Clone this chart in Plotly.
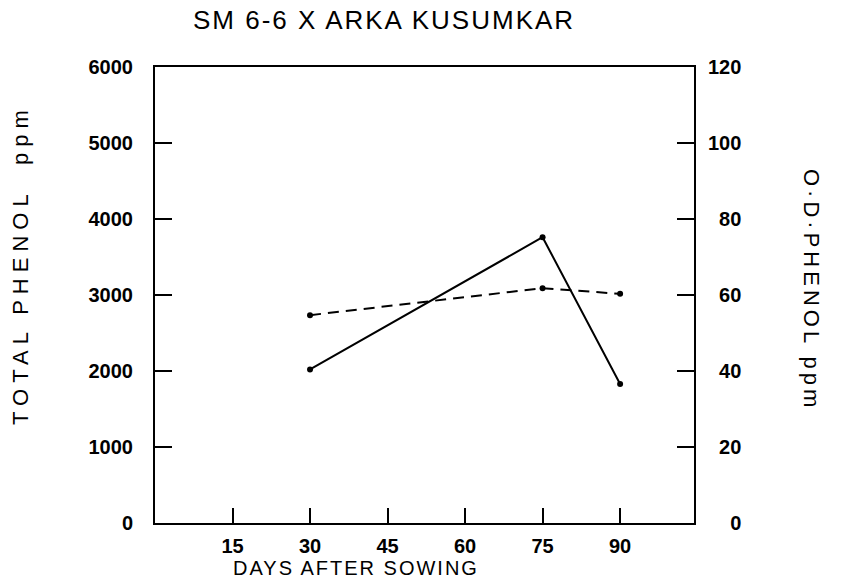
import plotly.graph_objects as go

days = [30, 75, 90]
total_phenol = [2020, 3760, 1830]      # left axis, ppm
od_phenol = [54.7, 61.8, 60.3]         # right axis, ppm

x_ticks = [15, 30, 45, 60, 75, 90]
left_ticks = [0, 1000, 2000, 3000, 4000, 5000, 6000]
left_ticktext = ["0", "1000", "2000", "3000", "4000", "5000", "6000"]
right_ticks = [0, 20, 40, 60, 80, 100, 120]
right_ticktext = ["0", "20", "40", "60", "80", "100", "120"]

FIG_SP = "\u2007"
right_ticktext_padded = [FIG_SP * (3 - len(t)) + t for t in right_ticktext]

FONT = "Liberation Sans"


def spaced(txt, px):
    return '<span style="letter-spacing:%dpx">%s</span>' % (px, txt)


fig = go.Figure()
fig.add_trace(go.Scatter(
    x=days, y=total_phenol, mode="lines+markers",
    line=dict(color="black", width=2),
    marker=dict(color="black", size=6),
    yaxis="y", showlegend=False))
fig.add_trace(go.Scatter(
    x=days, y=od_phenol, mode="lines+markers",
    line=dict(color="black", width=2, dash="11px,7px"),
    marker=dict(color="black", size=6),
    yaxis="y2", showlegend=False))

tickfont = dict(family=FONT, size=20, weight="bold")

fig.update_layout(
    width=842, height=584,
    margin=dict(l=155, r=148, t=67, b=61),
    paper_bgcolor="white", plot_bgcolor="white",
    font=dict(family=FONT, size=20, color="black"),
    xaxis=dict(
        range=[0, 104.3], tickvals=x_ticks, ticktext=[str(v) for v in x_ticks],
        ticks="inside", ticklen=15, tickwidth=2, tickcolor="black",
        showline=True, linewidth=2, linecolor="black", mirror=True,
        showgrid=False, zeroline=False, ticklabelstandoff=4,
        tickfont=tickfont,
    ),
    yaxis=dict(
        range=[0, 6000], tickvals=left_ticks, ticktext=left_ticktext,
        ticks="inside", ticklen=17, tickwidth=2, tickcolor="black",
        showline=True, linewidth=2, linecolor="black",
        showgrid=False, zeroline=False, ticklabelstandoff=16,
        tickfont=tickfont,
    ),
    yaxis2=dict(
        range=[0, 120], tickvals=right_ticks, ticktext=right_ticktext_padded,
        overlaying="y", side="right",
        ticks="inside", ticklen=17, tickwidth=2, tickcolor="black",
        showline=True, linewidth=2, linecolor="black",
        showgrid=False, zeroline=False, ticklabelstandoff=8,
        tickfont=tickfont,
    ),
    annotations=[
        dict(text=spaced("SM 6-6 X ARKA KUSUMKAR", 2), xref="paper", yref="paper",
             x=(384 - 155) / 539, y=(584 - 20 - 61) / 456, showarrow=False,
             xanchor="center", yanchor="middle",
             font=dict(family=FONT, size=26)),
        dict(text=spaced("DAYS AFTER SOWING", 2), xref="paper", yref="paper",
             x=(356 - 155) / 539, y=(584 - 568 - 61) / 456, showarrow=False,
             xanchor="center", yanchor="middle",
             font=dict(family=FONT, size=20)),
        dict(text=spaced("TOTAL PHENOL  ppm", 6), xref="paper", yref="paper",
             x=(20 - 155) / 539, y=(584 - 265 - 61) / 456, showarrow=False,
             xanchor="center", yanchor="middle", textangle=-90,
             font=dict(family=FONT, size=22)),
        dict(text=spaced("O·D·PHENOL ppm", 4), xref="paper", yref="paper",
             x=(812 - 155) / 539, y=(584 - 290 - 61) / 456, showarrow=False,
             xanchor="center", yanchor="middle", textangle=90,
             font=dict(family=FONT, size=22)),
    ],
)

fig.write_html("out.html")
